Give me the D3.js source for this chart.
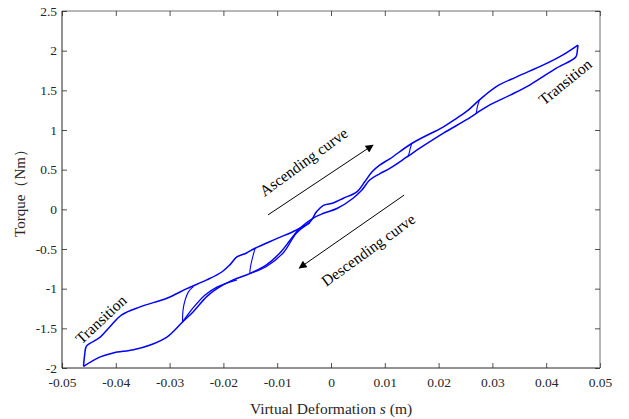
<!DOCTYPE html>
<html><head><meta charset="utf-8">
<script src="https://cdn.jsdelivr.net/npm/d3@7"></script>
<style>body{margin:0;background:#fff}svg{display:block}</style>
</head><body>
<svg id="c" width="629" height="419"></svg>
<script>
// ---- data (x in m, y in Nm) ----
const xTicks = [-0.05,-0.04,-0.03,-0.02,-0.01,0,0.01,0.02,0.03,0.04,0.05];
const yTicks = [-2,-1.5,-1,-0.5,0,0.5,1,1.5,2,2.5];
const upperBranch = [
[-0.0460,-1.98],[-0.0458,-1.84],[-0.0455,-1.73],[-0.0448,-1.69],[-0.0429,-1.61],[-0.0411,-1.48],
[-0.0389,-1.33],[-0.0355,-1.23],[-0.0305,-1.12],[-0.0268,-1.00],[-0.0231,-0.89],[-0.0203,-0.79],
[-0.0188,-0.70],[-0.0175,-0.60],[-0.0157,-0.55],[-0.0141,-0.49],[-0.0101,-0.37],[-0.0064,-0.26],
[-0.0039,-0.16],[-0.0027,-0.03],[-0.0014,0.05],[0.0004,0.08],[0.0023,0.14],[0.0048,0.22],
[0.0063,0.35],[0.0076,0.47],[0.0091,0.56],[0.0110,0.64],[0.0150,0.83],[0.0209,1.04],
[0.0234,1.15],[0.0255,1.25],[0.0276,1.38],[0.0308,1.55],[0.0345,1.67],[0.0395,1.82],
[0.0432,1.95],[0.0459,2.07]];
const lowerBranch = [
[0.0459,2.07],[0.0458,2.01],[0.0455,1.92],[0.0419,1.78],[0.0370,1.57],[0.0333,1.44],
[0.0296,1.32],[0.0270,1.21],[0.0252,1.13],[0.0209,0.96],[0.0165,0.77],[0.0141,0.66],
[0.0110,0.52],[0.0091,0.45],[0.0072,0.37],[0.0057,0.24],[0.0041,0.14],[0.0011,0.01],
[-0.0014,-0.05],[-0.0033,-0.11],[-0.0058,-0.24],[-0.0076,-0.39],[-0.0095,-0.55],[-0.0120,-0.70],
[-0.0151,-0.81],[-0.0182,-0.89],[-0.0212,-1.00],[-0.0231,-1.10],[-0.0256,-1.29],[-0.0276,-1.42],
[-0.0305,-1.61],[-0.0336,-1.71],[-0.0367,-1.77],[-0.0405,-1.81],[-0.0429,-1.86],[-0.0460,-1.98]];
const loopA_rise = [[-0.0276,-1.42],[-0.0275,-1.27],[-0.0271,-1.14],[-0.0265,-1.04],[-0.0256,-0.975]];
const loopA_inner = [[-0.0276,-1.42],[-0.0256,-1.24],[-0.0234,-1.08],[-0.0212,-0.98],[-0.0175,-0.89]];
const loopB_fall = [[-0.0141,-0.49],[-0.0147,-0.64],[-0.0150,-0.74],[-0.0151,-0.81]];
const loopB_inner = [[-0.0151,-0.81],[-0.0120,-0.72],[-0.0089,-0.55],[-0.0064,-0.30],[-0.0039,-0.17]];
const loopC_fall = [[0.0150,0.83],[0.0147,0.76],[0.0144,0.68],[0.0141,0.66]];
const loopD_fall = [[0.0276,1.38],[0.0272,1.29],[0.0270,1.21]];
const arrows = [ {from:[-0.0117,-0.07], to:[0.0078,0.81]}, {from:[0.0136,0.18], to:[-0.0059,-0.74]} ];
const labels = [
 {text:"Ascending curve", at:[-0.0051,0.60], angle:-36},
 {text:"Descending curve", at:[0.0069,-0.51], angle:-36},
 {text:"Transition", at:[-0.0428,-1.385], angle:-43},
 {text:"Transition", at:[0.0435,1.61], angle:-39}];

// ---- chart ----
const svg = d3.select("#c");
const L=62, R=600, T=11, B=368;
const x = d3.scaleLinear().domain([-0.05,0.05]).range([L,R]);
const y = d3.scaleLinear().domain([-2,2.5]).range([B,T]);
const axisCol = "#262626";
const font = "'Liberation Serif','Times New Roman',serif";

svg.append("defs").append("clipPath").attr("id","clip")
  .append("rect").attr("x",L).attr("y",T).attr("width",R-L).attr("height",B-T);
const m = svg.append("defs").append("marker").attr("id","ah")
  .attr("viewBox","0 0 10 10").attr("refX",9).attr("refY",5)
  .attr("markerWidth",11).attr("markerHeight",8).attr("markerUnits","userSpaceOnUse").attr("orient","auto");
m.append("path").attr("d","M0,0L10,5L0,10Z").attr("fill","#000");

const fmt = d => d===0 ? "0" : String(d);
const gx = svg.append("g").attr("transform",`translate(0,${B})`)
  .call(d3.axisBottom(x).tickValues(xTicks).tickSize(-5).tickPadding(9).tickFormat(fmt));
const gxt = svg.append("g").attr("transform",`translate(0,${T})`)
  .call(d3.axisTop(x).tickValues(xTicks).tickSize(-5).tickFormat(""));
const gy = svg.append("g").attr("transform",`translate(${L},0)`)
  .call(d3.axisLeft(y).tickValues(yTicks).tickSize(-5).tickPadding(5).tickFormat(fmt));
const gyr = svg.append("g").attr("transform",`translate(${R},0)`)
  .call(d3.axisRight(y).tickValues(yTicks).tickSize(-5).tickFormat(""));
[gx,gxt,gy,gyr].forEach(g=>{
  g.select(".domain").attr("stroke",axisCol).attr("stroke-width",1);
  g.selectAll(".tick line").attr("stroke",axisCol).attr("stroke-width",0.8);
  g.selectAll("text").attr("fill",axisCol).style("font-family",font).style("font-size","13.5px");
});
gx.selectAll(".tick text").attr("dy","0.71em");
gx.selectAll(".domain").attr("d",`M${L},0H${R}`);
gxt.selectAll(".domain").attr("d",`M${L},0H${R}`).attr("stroke","#6e6e6e");
gyr.selectAll(".domain").attr("d",`M0,${T}V${B}`).attr("stroke","#6e6e6e");
gy.selectAll(".domain").attr("d",`M0,${T}V${B}`);

const line = d3.line().x(d=>x(d[0])).y(d=>y(d[1])).curve(d3.curveCatmullRom.alpha(0.5));
const plot = svg.append("g").attr("clip-path","url(#clip)");
[upperBranch, lowerBranch].forEach(s=>plot.append("path").attr("d",line(s))
  .attr("fill","none").attr("stroke","#0000ff").attr("stroke-width",1.5));
[loopA_inner, loopB_inner].forEach(s=>plot.append("path").attr("d",line(s))
  .attr("fill","none").attr("stroke","#0000ff").attr("stroke-width",1.3));
[loopA_rise, loopB_fall, loopC_fall, loopD_fall].forEach(s=>plot.append("path").attr("d",line(s))
  .attr("fill","none").attr("stroke","#0000ff").attr("stroke-width",1.1));

arrows.forEach(a=>svg.append("line")
  .attr("x1",x(a.from[0])).attr("y1",y(a.from[1])).attr("x2",x(a.to[0])).attr("y2",y(a.to[1]))
  .attr("stroke","#000").attr("stroke-width",1).attr("marker-end","url(#ah)"));
labels.forEach(l=>svg.append("text")
  .attr("transform",`translate(${x(l.at[0])},${y(l.at[1])}) rotate(${l.angle})`)
  .attr("text-anchor","middle").attr("dominant-baseline","central")
  .style("font-family",font).style("font-size","15.5px").attr("fill","#000").text(l.text));

const xl = svg.append("text").attr("x",(L+R)/2).attr("y",414).attr("text-anchor","middle")
  .style("font-family",font).style("font-size","15.5px").attr("fill",axisCol);
xl.append("tspan").text("Virtual Deformation ");
xl.append("tspan").style("font-style","italic").text("s");
xl.append("tspan").text(" (m)");
svg.append("text").attr("transform",`translate(25,${(T+B)/2}) rotate(-90)`).attr("text-anchor","middle")
  .style("font-family",font).style("font-size","15px").attr("fill",axisCol).text("Torque（Nm）");
</script>
</body></html>
